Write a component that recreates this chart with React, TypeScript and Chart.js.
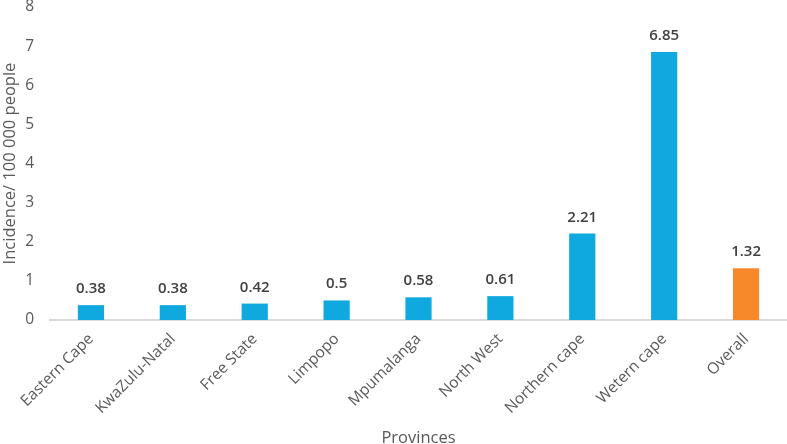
import React, { useEffect, useRef } from "react";
import { Chart, registerables } from "chart.js";

Chart.register(...registerables);

const categories = ["Eastern Cape", "KwaZulu-Natal", "Free State", "Limpopo", "Mpumalanga", "North West", "Northern cape", "Wetern cape", "Overall"];
const values = [0.38, 0.38, 0.42, 0.5, 0.58, 0.61, 2.21, 6.85, 1.32];
const barColors = ["#0FA8DF", "#0FA8DF", "#0FA8DF", "#0FA8DF", "#0FA8DF", "#0FA8DF", "#0FA8DF", "#0FA8DF", "#F7892B"];
const yTicks = [0, 1, 2, 3, 4, 5, 6, 7, 8];

const FONT = "'Open Sans', 'Noto Sans', sans-serif";
const TEXT = "#595959";

const labelPlugin = {
  id: "barLabels",
  afterDatasetsDraw(chart: any) {
    const ctx = chart.ctx;
    const meta = chart.getDatasetMeta(0);
    ctx.save();
    ctx.font = `600 15px ${FONT}`;
    ctx.fillStyle = "#404040";
    ctx.textAlign = "center";
    ctx.textBaseline = "alphabetic";
    meta.data.forEach((bar: any, i: number) => {
      ctx.fillText(String(values[i]), bar.x, bar.y - 12);
    });
    ctx.restore();
  },
};

export default function App() {
  const ref = useRef<HTMLCanvasElement | null>(null);
  useEffect(() => {
    if (!ref.current) return;
    const chart = new Chart(ref.current, {
      type: "bar",
      data: {
        labels: categories,
        datasets: [
          {
            data: values,
            backgroundColor: barColors,
            barPercentage: 0.32,
            categoryPercentage: 1,
          },
        ],
      },
      options: {
        animation: false,
        responsive: false,
        maintainAspectRatio: false,
        layout: { padding: { top: 7, right: 0, left: 0, bottom: 0 } },
        plugins: { legend: { display: false }, tooltip: { enabled: false } },
        scales: {
          x: {
            grid: { display: false, drawTicks: false },
            border: { display: true, color: "#D9D9D9", width: 2 },
            ticks: {
              color: TEXT,
              font: { family: FONT, size: 15.5 },
              maxRotation: 45,
              minRotation: 45,
              padding: 10,
              autoSkip: false,
            },
            title: {
              display: true,
              text: "Provinces",
              color: TEXT,
              font: { family: FONT, size: 16.5 },
              padding: { top: 0, bottom: -4 },
            },
            afterFit(scale: any) {
              scale.height = 124;
              scale.paddingLeft = 0;
              scale.paddingRight = 0;
            },
          },
          y: {
            min: 0,
            max: 8,
            afterBuildTicks(scale: any) {
              scale.ticks = yTicks.map((v) => ({ value: v }));
            },
            grid: { display: false, drawTicks: false },
            border: { display: false },
            ticks: {
              color: TEXT,
              font: { family: FONT, size: 15.5 },
              padding: 16,
            },
            title: {
              display: true,
              text: "Incidence/ 100 000 people",
              color: TEXT,
              font: { family: FONT, size: 16.5 },
              padding: { top: 0, bottom: 2 },
            },
            afterFit(scale: any) {
              scale.width = 50;
              scale.paddingTop = 0;
              scale.paddingBottom = 0;
            },
          },
        },
      },
      plugins: [labelPlugin],
    });
    return () => chart.destroy();
  }, []);
  return (
    <div style={{ position: "fixed", left: 0, top: 0, width: 787, height: 444, background: "#fff" }}>
      <canvas ref={ref} width={787} height={444} style={{ width: 787, height: 444 }} />
    </div>
  );
}
